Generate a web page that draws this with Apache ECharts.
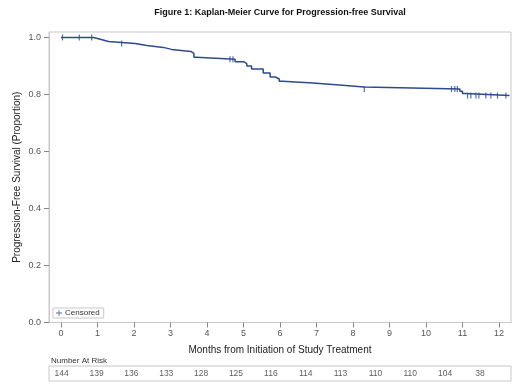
<!DOCTYPE html>
<html>
<head>
<meta charset="utf-8">
<script src="https://cdn.jsdelivr.net/npm/echarts@6/dist/echarts.min.js"></script>
<style>
  html, body { margin: 0; padding: 0; background: #fff; }
  #chart { width: 520px; height: 390px; }
</style>
</head>
<body>
<div id="chart"></div>
<script>
// event times (months) and survival after each event
var eventTimes = [0, 0.89, 1.10, 1.30, 2.03, 2.35, 2.80, 3.03, 3.56, 3.64, 3.70, 4.77, 5.00, 5.09, 5.22, 5.54, 5.73, 5.87, 5.98, 6.07, 6.90, 7.63, 8.30, 10.93, 11.00, 11.07, 12.29];
var survival = [1.0, 0.993, 0.986, 0.979, 0.972, 0.965, 0.958, 0.951, 0.944, 0.930, 0.923, 0.915, 0.908, 0.900, 0.889, 0.875, 0.861, 0.854, 0.846, 0.840, 0.833, 0.826, 0.819, 0.811, 0.803, 0.796, 0.796];
// censored observations
var censorTimes = [0.04, 0.50, 0.84, 1.66, 4.63, 4.71, 8.31, 10.70, 10.79, 10.86, 11.14, 11.23, 11.37, 11.45, 11.64, 11.78, 11.96, 12.19];
// number at risk at months 0..12
var riskMonths = [0, 1, 2, 3, 4, 5, 6, 7, 8, 9, 10, 11, 12];
var atRisk = [144, 139, 136, 133, 128, 125, 116, 114, 113, 110, 110, 104, 38];
var xTicks = [0, 1, 2, 3, 4, 5, 6, 7, 8, 9, 10, 11, 12];
var yTicks = [0, 0.2, 0.4, 0.6, 0.8, 1.0];

var lineColor = '#2E4A8E';
var font = 'Liberation Sans, Arial, sans-serif';

function survAt(t) {
  var s = survival[0];
  for (var i = 0; i < eventTimes.length; i++) {
    if (eventTimes[i] <= t) s = survival[i];
  }
  return s;
}

var curve = eventTimes.map(function (t, i) { return [t, survival[i]]; });
var censored = censorTimes.map(function (t) { return [t, survAt(t)]; });
var riskData = riskMonths.map(function (m, i) { return [m, 0.5, atRisk[i]]; });

var myChart = echarts.init(document.getElementById('chart'));
var option = {
  backgroundColor: '#fff',
  animation: false,
  textStyle: { fontFamily: font },
  title: [{
    text: 'Figure 1: Kaplan-Meier Curve for Progression-free Survival',
    left: 280, top: 8, textAlign: 'center', padding: 0,
    textStyle: { fontSize: 9, fontWeight: 'bold', color: '#111', fontFamily: font }
  }, {
    text: 'Number At Risk',
    left: 51, top: 357, padding: 0,
    textStyle: { fontSize: 8, fontWeight: 'normal', color: '#333', fontFamily: font }
  }],
  legend: {
    data: [{ name: 'Censored', icon: 'path://M3,0H4V3H7V4H4V7H3V4H0V3H3Z' }],
    left: 53, top: 308,
    orient: 'vertical',
    itemWidth: 6, itemHeight: 6, itemGap: 0,
    padding: [1, 4, 1, 3],
    borderColor: '#c8c8c8', borderWidth: 1,
    textStyle: { fontSize: 8, color: '#333', fontFamily: font, padding: [0, 0, 0, -2] },
    selectedMode: false
  },
  grid: [{
    left: 49, right: 9, top: 32, bottom: 67.5,
    show: true, borderColor: '#c8c8c8', borderWidth: 1
  }, {
    left: 49, right: 9, top: 366, height: 15,
    show: true, borderColor: '#c8c8c8', borderWidth: 1
  }],
  xAxis: [{
    type: 'value', gridIndex: 0,
    min: -0.33, max: 12.33,
    name: 'Months from Initiation of Study Treatment',
    nameLocation: 'middle', nameGap: 23, nameMoveOverlap: false,
    nameTextStyle: { fontSize: 10, color: '#222', fontFamily: font },
    axisLine: { show: true, onZero: false, lineStyle: { color: '#c8c8c8' } },
    axisTick: { show: true, length: 5, lineStyle: { color: '#888', width: 1 }, customValues: xTicks },
    axisLabel: { fontSize: 9, color: '#555', margin: 7, customValues: xTicks },
    splitLine: { show: false }
  }, {
    type: 'value', gridIndex: 1,
    min: -0.364, max: 12.89, show: false
  }],
  yAxis: [{
    type: 'value', gridIndex: 0,
    min: 0, max: 1.019, interval: 0.2,
    name: 'Progression-Free Survival (Proportion)',
    nameLocation: 'middle', nameGap: 27, nameMoveOverlap: false,
    nameTextStyle: { fontSize: 10, color: '#222', fontFamily: font },
    axisLine: { show: true, onZero: false, lineStyle: { color: '#c8c8c8' } },
    axisTick: { show: true, length: 5, lineStyle: { color: '#888', width: 1 }, customValues: yTicks },
    axisLabel: {
      fontSize: 9, color: '#555', margin: 8, showMaxLabel: false,
      formatter: function (v) { return v.toFixed(1); }
    },
    splitLine: { show: false }
  }, {
    type: 'value', gridIndex: 1, min: 0, max: 1, show: false
  }],
  series: [{
    name: 'Survival',
    type: 'line', step: 'end',
    xAxisIndex: 0, yAxisIndex: 0,
    data: curve,
    showSymbol: false, symbol: 'none',
    lineStyle: { color: lineColor, width: 1.5 },
    itemStyle: { color: lineColor },
    z: 3
  }, {
    name: 'Censored',
    type: 'scatter',
    xAxisIndex: 0, yAxisIndex: 0,
    data: censored,
    symbol: 'rect', symbolSize: [1.2, 6],
    itemStyle: { color: lineColor },
    z: 4
  }, {
    name: 'At Risk',
    type: 'scatter',
    xAxisIndex: 1, yAxisIndex: 1,
    data: riskData,
    symbolSize: 1,
    itemStyle: { color: 'rgba(0,0,0,0)' },
    label: {
      show: true, position: 'inside',
      formatter: function (p) { return p.value[2]; },
      fontSize: 8.5, color: '#333', fontFamily: font
    },
    silent: true
  }]
};
myChart.setOption(option);
</script>
</body>
</html>
